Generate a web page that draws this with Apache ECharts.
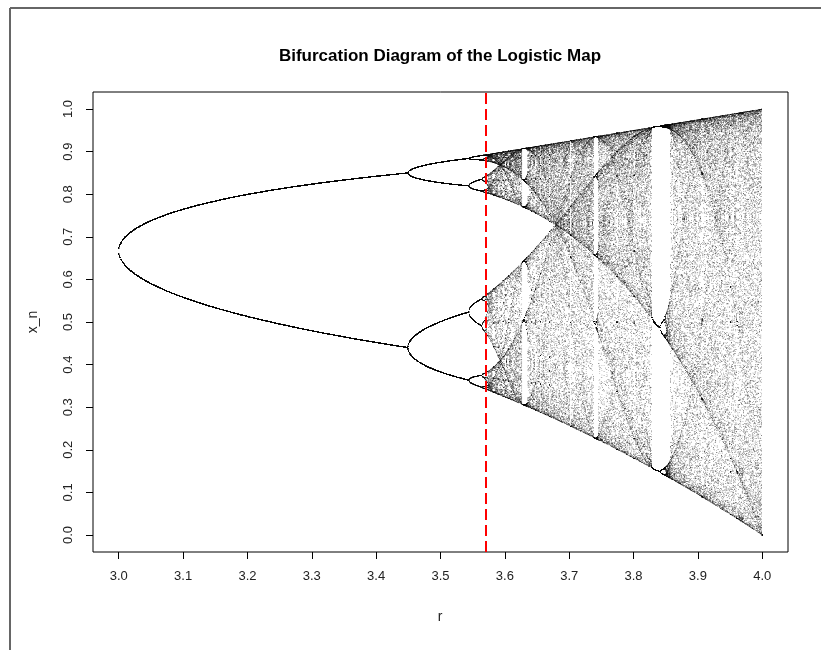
<!DOCTYPE html>
<html>
<head>
<meta charset="utf-8">
<title>Bifurcation Diagram of the Logistic Map</title>
<script src="https://cdn.jsdelivr.net/npm/echarts@6/dist/echarts.min.js"></script>
<style>
  html, body { margin: 0; padding: 0; background: #fff; }
  #main { width: 821px; height: 650px; }
</style>
</head>
<body>
<div id="main"></div>
<script>
// r range and iteration settings of the logistic map x -> r*x*(1-x)
const R_RANGE = [3.0, 4.0];
const R_STEPS = [900];
const ITER_SETTINGS = [1000, 180]; // transient, kept
const CHAOS_ONSET = [3.57];
const X_TICKS = [3.0, 3.1, 3.2, 3.3, 3.4, 3.5, 3.6, 3.7, 3.8, 3.9, 4.0];
const Y_TICKS = [0.0, 0.1, 0.2, 0.3, 0.4, 0.5, 0.6, 0.7, 0.8, 0.9, 1.0];
const X_LIMITS = [2.96, 4.04];
const Y_LIMITS = [-0.04, 1.04];

// iterate the map for each r
var points = [];
var steps = R_STEPS[0];
for (var i = 0; i < steps; i++) {
  var r = R_RANGE[0] + (R_RANGE[1] - R_RANGE[0]) * i / (steps - 1);
  var x = 0.5;
  for (var k = 0; k < ITER_SETTINGS[0]; k++) x = r * x * (1 - x);
  for (var k = 0; k < ITER_SETTINGS[1]; k++) {
    x = r * x * (1 - x);
    points.push([r, x]);
  }
}

var chartDom = document.getElementById("main");
var myChart = echarts.init(chartDom);
var font = "Liberation Sans, Arial, sans-serif";
var option;

option = {
  animation: false,
  backgroundColor: "#fff",
  grid: {
    left: 93,
    right: 33,
    top: 92,
    bottom: 98,
    show: true,
    borderColor: "#000",
    borderWidth: 1,
    backgroundColor: "transparent",
  },
  xAxis: {
    type: "value",
    min: X_LIMITS[0],
    max: X_LIMITS[1],
    axisLine: { show: false, onZero: false },
    splitLine: { show: false },
    axisTick: {
      show: true,
      length: 7,
      customValues: X_TICKS,
      lineStyle: { color: "#000", width: 1 },
    },
    axisLabel: {
      customValues: X_TICKS,
      margin: 18,
      fontFamily: font,
      fontSize: 13,
      color: "#222",
      formatter: (v) => v.toFixed(1),
    },
  },
  yAxis: {
    type: "value",
    min: Y_LIMITS[0],
    max: Y_LIMITS[1],
    axisLine: { show: false, onZero: false },
    splitLine: { show: false },
    axisTick: {
      show: true,
      length: 7,
      customValues: Y_TICKS,
      lineStyle: { color: "#000", width: 1 },
    },
    axisLabel: {
      customValues: Y_TICKS,
      margin: 18,
      rotate: 90,
      fontFamily: font,
      fontSize: 13,
      color: "#222",
      formatter: (v) => v.toFixed(1),
    },
  },
  series: [
    {
      type: "scatter",
      large: false,
      progressive: 0,
      symbol: "rect",
      symbolSize: 0.6,
      itemStyle: { color: "rgba(0,0,0,0.9)", borderWidth: 0 },
      data: points,
      silent: true,
      markLine: {
        silent: true,
        symbol: "none",
        label: { show: false },
        lineStyle: { color: "#ff0000", width: 2, type: [11, 5] },
        data: CHAOS_ONSET.map((v) => ({ xAxis: v })),
      },
    },
  ],
  graphic: [
    {
      type: "line",
      shape: { x1: 10, y1: 8, x2: 821, y2: 8 },
      style: { stroke: "#666", lineWidth: 2 },
    },
    {
      type: "line",
      shape: { x1: 10, y1: 8, x2: 10, y2: 650 },
      style: { stroke: "#666", lineWidth: 2 },
    },
    {
      type: "text",
      x: 440,
      y: 56,
      style: {
        text: "Bifurcation Diagram of the Logistic Map",
        fontFamily: font,
        fontWeight: "bold",
        fontSize: 17,
        fill: "#000",
        textAlign: "center",
        textVerticalAlign: "middle",
      },
    },
    {
      type: "text",
      x: 440,
      y: 617,
      style: {
        text: "r",
        fontFamily: font,
        fontSize: 14,
        fill: "#222",
        textAlign: "center",
        textVerticalAlign: "middle",
      },
    },
    {
      type: "text",
      x: 33,
      y: 322,
      rotation: Math.PI / 2,
      style: {
        text: "x_n",
        fontFamily: font,
        fontSize: 14,
        fill: "#222",
        textAlign: "center",
        textVerticalAlign: "middle",
      },
    },
  ],
};

option && myChart.setOption(option);
</script>
</body>
</html>
